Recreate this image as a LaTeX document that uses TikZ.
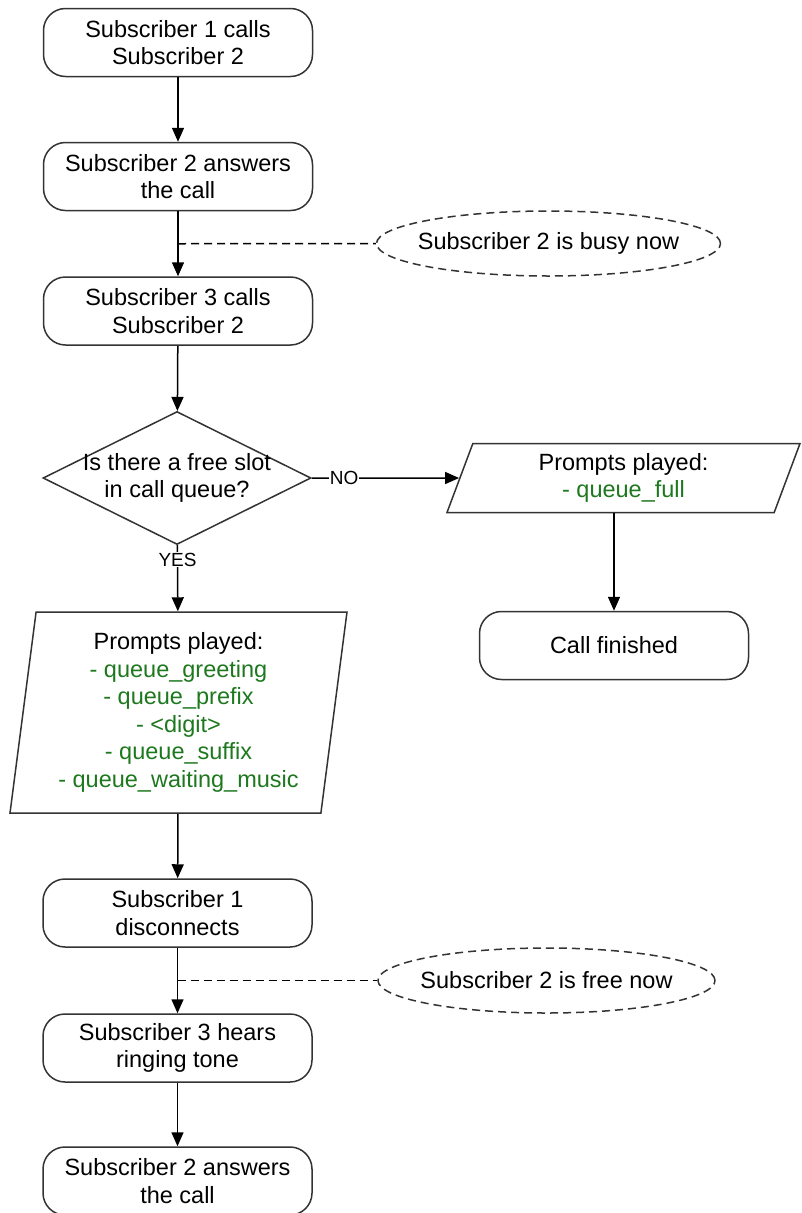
\documentclass[tikz,border=0pt]{standalone}
\usepackage{fontspec}
\setmainfont{Liberation Sans}
\usepackage{tikz}
\usetikzlibrary{arrows.meta,calc,shapes.geometric}
\definecolor{edgegray}{HTML}{333333}
\definecolor{promptgreen}{HTML}{1E781E}
\newcommand{\prm}[1]{\textcolor{promptgreen}{#1}}

\begin{document}
\begin{tikzpicture}[x=1pt,y=-1pt,
  font=\fontsize{23.5}{27.5}\selectfont,
  every node/.style={align=center,inner sep=0pt},
  term/.style={draw=edgegray,line width=1.5pt,rounded corners=22pt,minimum width=269pt,minimum height=68pt},
  note/.style={ellipse,draw=edgegray,line width=1.5pt,dash pattern=on 8pt off 5pt,inner xsep=-9pt,minimum width=337pt,minimum height=65pt},
  decision/.style={diamond,draw=edgegray,line width=1.5pt,minimum width=268pt,minimum height=133pt},
  io/.style={trapezium,trapezium stretches body,draw=edgegray,line width=1.5pt},
  flow/.style={-{Triangle[length=14pt,width=12pt]},line width=1.5pt},
  link/.style={line width=1.5pt,dash pattern=on 8pt off 5pt},
  tag/.style={fill=white,font=\fontsize{19}{22}\selectfont,inner sep=1pt}]
\useasboundingbox (0,0) rectangle (802,1213);

% main column
\node[term] (call1) at (178,42.5) {Subscriber 1 calls\\Subscriber 2};
\node[term] (ans) at (178,176.5) {Subscriber 2 answers\\the call};
\node[term] (call3) at (178,311) {Subscriber 3 calls\\Subscriber 2};
\node[decision] (slot) at (177,478) {};
\node (slotq) at (slot.center) {Is there a free slot\\in call queue?};
\node[io,trapezium left angle=80.7,trapezium right angle=99.3,minimum width=337pt,minimum height=201pt] (prompts) at (178.5,712.5)
  {Prompts played:\\\prm{- queue\_greeting}\\\prm{- queue\_prefix}\\\prm{- <digit>}\\\prm{- queue\_suffix}\\\prm{- queue\_waiting\_music}};
\node[term] (disc) at (177.5,913) {Subscriber 1\\disconnects};
\node[term] (ring) at (177.5,1048) {Subscriber 3 hears\\ringing tone};
\node[term] (ans2) at (177.5,1181) {Subscriber 2 answers\\the call};

% queue full branch
\node[io,trapezium left angle=62.4,trapezium right angle=117.6,minimum width=353pt,minimum height=69pt] (qfull) at (623.5,478)
  {Prompts played:\\\prm{- queue\_full}};
\node[term] (done) at (614,645.5) {Call finished};

% notes
\node[note] (busy) at (548.5,243.5) {Subscriber 2 is busy now};
\node[note] (free) at (546.5,980.5) {Subscriber 2 is free now};

\foreach \a/\b in {call1/ans,ans/call3,call3/slot,prompts/disc,disc/ring,ring/ans2}
  \draw[flow] (\a) -- (\b);
\draw[flow] (slot) -- node[tag,pos=0.22] {NO} (qfull);
\draw[flow] (slot) -- node[tag,pos=0.22] {YES} (prompts);
\draw[flow] (qfull.south -| done.north) -- (done.north);

\coordinate (busyjoin) at ($(ans.south)!0.5!(call3.north)$);
\coordinate (freejoin) at ($(disc.south)!0.5!(ring.north)$);
\draw[link] (busyjoin) -- (busy);
\draw[link] (freejoin) -- (free);
\end{tikzpicture}
\end{document}
